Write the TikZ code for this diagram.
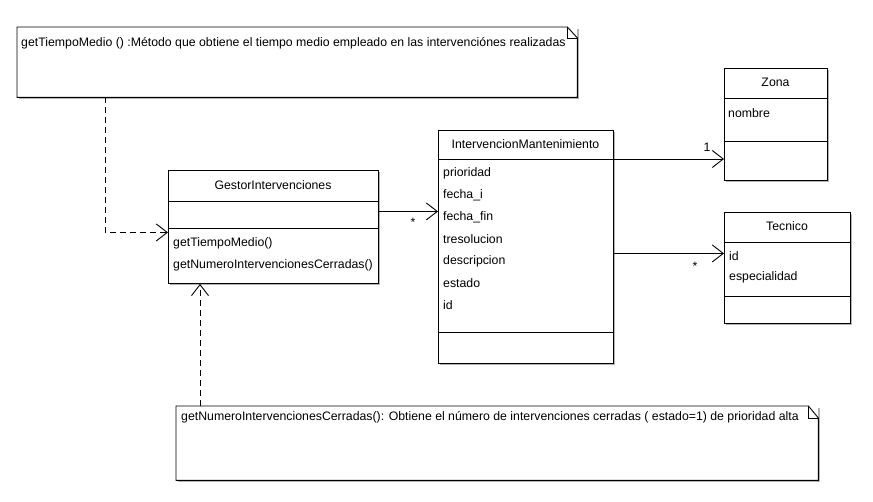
\documentclass[tikz,border=0pt]{standalone}
\usepackage{fontspec}
\setmainfont{Liberation Sans}
\usetikzlibrary{arrows.meta,shadows}

\tikzset{
  umlshadow/.style={drop shadow={shadow xshift=1.5pt,shadow yshift=-1.5pt,fill=black,opacity=0.3}},
  box/.style={draw,line width=0.9pt,fill=white,anchor=north west,inner sep=0pt,umlshadow},
  notebox/.style={fill=white,anchor=north west,inner sep=0pt,umlshadow},
  noteline/.style={line width=0.9pt},
  txt/.style={anchor=west,inner sep=0pt},
  assoc/.style={line width=0.9pt,-{Straight Barb[length=11pt,width=17pt]}},
  dep/.style={line width=0.9pt,dash pattern=on 6pt off 4pt,-{Straight Barb[length=11pt,width=17pt]}}
}

\begin{document}
\begin{tikzpicture}[x=1pt,y=-1pt,font=\fontsize{12.3}{14}\selectfont]
      \useasboundingbox (0,0) rectangle (873,502);
      % notes
      \node[notebox,minimum width=560pt,minimum height=70pt] (N1) at (17,27) {};
      \node[notebox,minimum width=642pt,minimum height=74pt] (N2) at (176,406) {};
      \draw[noteline] (N1.north west) -- ([xshift=-10pt]N1.north east) -- ([yshift=-11pt]N1.north east) -- (N1.south east) -- (N1.south west) -- cycle;
      \draw[noteline] ([xshift=-10pt]N1.north east) |- ([yshift=-11pt]N1.north east);
      \draw[noteline] (N2.north west) -- ([xshift=-10pt]N2.north east) -- ([yshift=-12pt]N2.north east) -- (N2.south east) -- (N2.south west) -- cycle;
      \draw[noteline] ([xshift=-10pt]N2.north east) |- ([yshift=-12pt]N2.north east);
      \node[txt] (n1) at (21,43) {getTiempoMedio () :Método que obtiene el tiempo medio empleado en las intervenciónes realizadas};
      \node[txt] (n2) at (181,417) {getNumeroIntervencionesCerradas(): Obtiene el número de intervenciones cerradas ( estado=1) de prioridad alta};
      % classes
      \node[box,minimum width=210pt,minimum height=113pt] (G) at (168,170) {};
      \node[box,minimum width=175pt,minimum height=233pt] (I) at (438,130) {};
      \node[box,minimum width=103pt,minimum height=112pt] (Z) at (724,68) {};
      \node[box,minimum width=126pt,minimum height=111pt] (T) at (724,212) {};
      % compartments
      \draw[noteline] ([yshift=-31pt]G.north west) -- ([yshift=-31pt]G.north east);
      \draw[noteline] ([yshift=-58pt]G.north west) -- ([yshift=-58pt]G.north east);
      \draw[noteline] ([yshift=-29pt]I.north west) -- ([yshift=-29pt]I.north east);
      \draw[noteline] ([yshift=-202pt]I.north west) -- ([yshift=-202pt]I.north east);
      \draw[noteline] ([yshift=-30pt]Z.north west) -- ([yshift=-30pt]Z.north east);
      \draw[noteline] ([yshift=-73pt]Z.north west) -- ([yshift=-73pt]Z.north east);
      \draw[noteline] ([yshift=-30pt]T.north west) -- ([yshift=-30pt]T.north east);
      \draw[noteline] ([yshift=-84pt]T.north west) -- ([yshift=-84pt]T.north east);
      % class texts
      \node (Gname) at (273,185) {GestorIntervenciones};
      \node[txt] (g1) at (173,243) {getTiempoMedio()};
      \node[txt] (g2) at (173,265) {getNumeroIntervencionesCerradas()};
      \node (Iname) at (525.5,144) {IntervencionMantenimiento};
      \node[txt] (i1) at (443,173) {prioridad};
      \node[txt] (i2) at (443,195) {fecha\_i};
      \node[txt] (i3) at (443,217) {fecha\_fin};
      \node[txt] (i4) at (443,239) {tresolucion};
      \node[txt] (i5) at (443,261) {descripcion};
      \node[txt] (i6) at (443,283) {estado};
      \node[txt] (i7) at (443,305) {id};
      \node (Zname) at (775.5,82) {Zona};
      \node[txt] (z1) at (728,113) {nombre};
      \node (Tname) at (787,226) {Tecnico};
      \node[txt] (t1) at (729,256) {id};
      \node[txt] (t2) at (729,277) {especialidad};
      % connectors
      \coordinate (d1) at ([xshift=88pt]N1.south west);
      \coordinate (d2) at ([xshift=24pt]N2.north west);
      \draw[dep] (d1) |- ([yshift=-5.5pt]G.west);
      \draw[dep] (d2) -- (d2 |- G.south);
      \draw[assoc] ([yshift=15.5pt]G.east) -- ([yshift=15.5pt]G.east -| I.west);
      \draw[assoc] ([yshift=-29pt]I.north east) -- ([yshift=-29pt]I.north east -| Z.west);
      \draw[assoc] ([yshift=-6.5pt]I.east) -- ([yshift=-6.5pt]I.east -| T.west);
      \node (m1) at (413,222) {*};
      \node (m2) at (707,147) {1};
      \node (m3) at (695,266) {*};
    \end{tikzpicture}
\end{document}
